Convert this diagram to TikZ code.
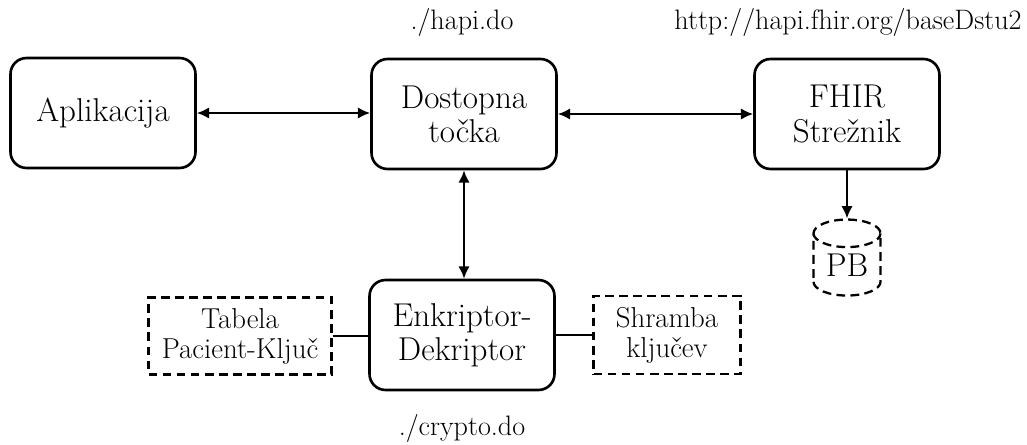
\documentclass[tikz,border=0pt]{standalone}
\usepackage{fontspec}
\usetikzlibrary{arrows.meta,shapes.geometric}
\begin{document}
\begin{tikzpicture}[x=0.02cm,y=-0.02cm,
  box/.style={draw,line width=1.5pt,rounded corners=0.32cm,align=center,
    minimum width=3.7cm,minimum height=2.2cm,inner sep=0pt,
    font=\fontsize{18.8}{19.5}\selectfont},
  dbox/.style={draw,line width=1.3pt,dash pattern=on 5pt off 3pt,align=center,
    inner sep=0pt,font=\fontsize{16.4}{17}\selectfont},
  lbl/.style={font=\fontsize{16}{17}\selectfont,inner sep=0pt},
  conn/.style={line width=1.3pt},
  dbl/.style={conn,{Latex[length=7pt,width=6.5pt]}-{Latex[length=7pt,width=6.5pt]}},
  single/.style={conn,-{Latex[length=7pt,width=6.5pt]}}]
\useasboundingbox (0,0) rectangle (1027,444);
\node[box] (app) at (103,113) {Aplikacija};
\node[box] (dt) at (464,114) {Dostopna\\točka};
\node[box] (fhir) at (847,114) {FHIR\\Strežnik};
\node[box] (enc) at (462,335) {Enkriptor-\\Dekriptor};
\node[dbox,minimum width=3.66cm,minimum height=1.54cm] (tab) at (240,336) {Tabela\\Pacient-Ključ};
\node[dbox,minimum width=2.94cm,minimum height=1.56cm] (shr) at (667,335) {Shramba\\ključev};
\node[draw,cylinder,shape border rotate=90,shape aspect=0.65,dash pattern=on 5pt off 3pt,
  line width=1.3pt,minimum width=1.34cm,minimum height=1.52cm,inner sep=0pt,
  font=\fontsize{18.8}{19.5}\selectfont] (pb) at (847,265) {PB};
\node[lbl] (l1) at (462,22) {./hapi.do};
\node[lbl] (l2) at (848,22) {http://hapi.fhir.org/baseDstu2};
\node[lbl] (l3) at (462,428) {./crypto.do};
\draw[dbl] (app.east) -- (app.east -| dt.west);
\draw[dbl] (dt.east) -- (dt.east -| fhir.west);
\draw[dbl] (dt.south) -- (dt.south |- enc.north);
\draw[single] (fhir.south) -- (pb.top);
\draw[conn] (tab.east) -- (tab.east -| enc.west);
\draw[conn] (enc.east) -- (enc.east -| shr.west);
\end{tikzpicture}
\end{document}
